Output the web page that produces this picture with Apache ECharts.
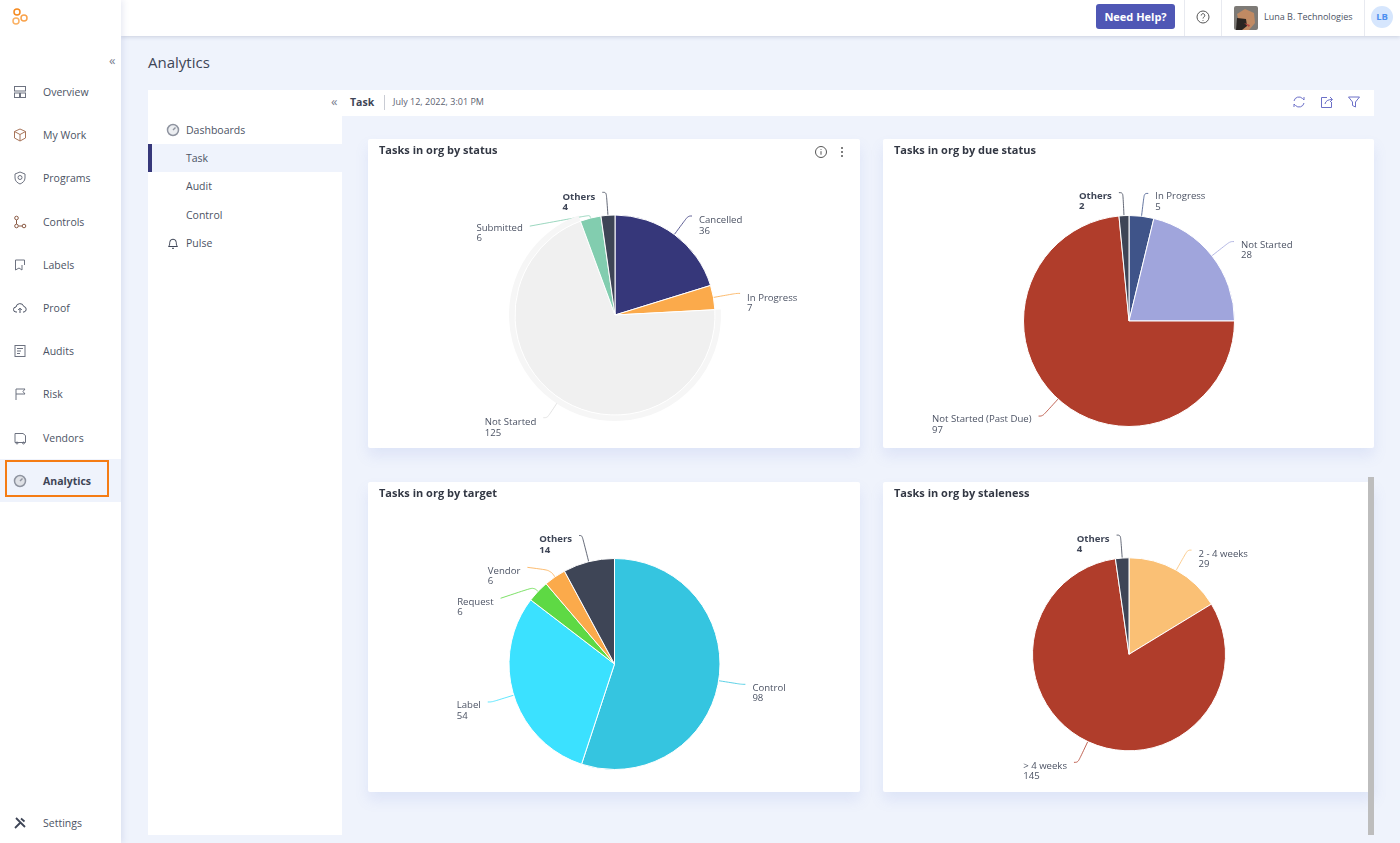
<!DOCTYPE html>
<html>
<head>
<meta charset="utf-8">
<title>Analytics</title>
<script src="https://cdn.jsdelivr.net/npm/echarts@6/dist/echarts.min.js"></script>
<style>
  html, body { margin: 0; padding: 0; }
  body { width: 1400px; height: 843px; overflow: hidden; position: relative; background: #eff3fc;
         font-family: "Open Sans", sans-serif; color: #4c5364; }
  .abs { position: absolute; }
  .side { left: 0; top: 0; width: 121px; height: 843px; background: #fff; box-shadow: 2px 0 6px rgba(90,105,170,.14); z-index: 3; }
  .top { left: 121px; top: 0; width: 1279px; height: 36px; background: #fff; box-shadow: 0 1px 4px rgba(70,80,120,.22); z-index: 2; }
  .nav { font-size: 10.5px; line-height: 14px; white-space: nowrap; }
  .nav svg { position: absolute; left: -30px; top: 0; }
  .txt { white-space: nowrap; line-height: 14px; }
  .sep { width: 1px; background: #e8eaf0; }
  .panel { background: #fff; }
  .card { background: #fff; border-radius: 2px; box-shadow: 0 8px 14px rgba(110,130,215,.13); }
</style>
</head>
<body>

<div class="abs side">
  <svg class="abs" style="left:11px;top:7px" width="20" height="20" viewBox="0 0 20 20" fill="none" stroke-width="1.5">
    <circle cx="6" cy="5" r="3" stroke="#f58a1f"/><circle cx="5" cy="14" r="3" stroke="#fbb163"/><circle cx="13" cy="11" r="3" stroke="#f9a24b"/>
  </svg>
  <div class="abs txt" style="left:109px;top:53px;font-size:13px;color:#7a8090">«</div>

  <div class="abs nav" style="left:43px;top:85px"><svg width="14" height="14" viewBox="0 0 14 14" fill="none" stroke="#6d7280"><rect x="1.5" y="1.5" width="11" height="4.5"/><rect x="1.5" y="8" width="5" height="4.5"/><rect x="7.5" y="8" width="5" height="4.5"/></svg>Overview</div>
  <div class="abs nav" style="left:43px;top:128px"><svg width="14" height="14" viewBox="0 0 14 14" fill="none" stroke="#a8755a"><path d="M7 1l5.5 2.5v6.5L7 13 1.5 10V3.5zM1.5 3.5L7 6.5l5.5-3M7 6.5V13"/></svg>My Work</div>
  <div class="abs nav" style="left:43px;top:171px"><svg width="14" height="14" viewBox="0 0 14 14" fill="none" stroke="#6d7280"><path d="M7 1l5 2v4c0 3-2.5 5-5 6-2.500-1-5-3-5-6V3z"/><circle cx="7" cy="6.5" r="2"/></svg>Programs</div>
  <div class="abs nav" style="left:43px;top:215px"><svg width="14" height="14" viewBox="0 0 14 14" fill="none" stroke="#8a5a44"><circle cx="3.5" cy="3" r="1.8"/><circle cx="3.5" cy="11" r="1.8"/><circle cx="11" cy="11" r="1.8"/><path d="M3.5 5v4M5.5 11h3.5"/></svg>Controls</div>
  <div class="abs nav" style="left:43px;top:258px"><svg width="14" height="14" viewBox="0 0 14 14" fill="none" stroke="#6d7280"><path d="M2.5 2h9v5M2.5 2v10l3.5-2 3 2V7"/></svg>Labels</div>
  <div class="abs nav" style="left:43px;top:301px"><svg width="14" height="14" viewBox="0 0 14 14" fill="none" stroke="#4c5364"><path d="M4 11H3a2.5 2.5 0 010-5 4 4 0 017.8-.5A2.8 2.8 0 0111 11h-1M7 12V7.5M5.2 9L7 7.200 8.800 9"/></svg>Proof</div>
  <div class="abs nav" style="left:43px;top:344px"><svg width="14" height="14" viewBox="0 0 14 14" fill="none" stroke="#6d7280"><rect x="2" y="1.5" width="10" height="11"/><path d="M4 4.5h6M4 7h4M4 9.5h3"/></svg>Audits</div>
  <div class="abs nav" style="left:43px;top:387px"><svg width="14" height="14" viewBox="0 0 14 14" fill="none" stroke="#6d7280"><path d="M3 13V2h9l-2 2.5L12 7H3"/></svg>Risk</div>
  <div class="abs nav" style="left:43px;top:431px"><svg width="14" height="14" viewBox="0 0 14 14" fill="none" stroke="#6d7280"><path d="M2 2.5h8l2.500 2v7h-10.500z"/><circle cx="4" cy="12" r="1"/><circle cx="10.5" cy="12" r="1"/></svg>Vendors</div>

  <div class="abs" style="left:0;top:459px;width:121px;height:43px;background:#eff3fc"></div>
  <div class="abs" style="left:5px;top:460px;width:100px;height:33px;border:2px solid #f57c14"></div>
  <div class="abs nav" style="left:43px;top:474px;font-weight:700;color:#3e4556"><svg width="14" height="14" viewBox="0 0 14 14" fill="#dfe1e6" stroke="#8f94a0" stroke-width="1.5"><circle cx="7" cy="7" r="5.5"/><path d="M7 7l2.5-2.5"/></svg>Analytics</div>

  <div class="abs nav" style="left:43px;top:816px"><svg width="14" height="14" viewBox="0 0 14 14" fill="none" stroke="#3e4556" stroke-width="1.8"><path d="M2 12l6-6M3 2l9 9M8 2.500l3.500 3"/></svg>Settings</div>
</div>

<div class="abs top"></div>
<div class="abs" style="left:1096px;top:4px;width:79px;height:25px;background:#4f57b5;border-radius:3px;color:#fff;font-size:11px;font-weight:700;line-height:25px;text-align:center;z-index:4">Need Help?</div>
<div class="abs sep" style="left:1184px;top:0;height:36px;z-index:4"></div>
<svg class="abs" style="left:1196px;top:10px;z-index:4" width="14" height="14" viewBox="0 0 14 14" fill="none" stroke="#555"><circle cx="7" cy="7" r="6"/><path d="M5.2 5.5a1.8 1.8 0 113 1.3c-.7.5-1.200.9-1.200 1.700M7 10v.8"/></svg>
<div class="abs sep" style="left:1221px;top:0;height:36px;z-index:4"></div>
<svg class="abs" style="left:1234px;top:6px;z-index:4;border-radius:2px" width="24" height="24" viewBox="0 0 24 24"><rect width="24" height="24" fill="#7d7a76"/><path d="M3 8l8-5 9 4 1 10-6 7H7z" fill="#c08a63"/><path d="M3 12l9 1 1 7-5 4H2z" fill="#2a2522"/><path d="M10 17l6 2-1 2z" fill="#b5473f"/></svg>
<div class="abs txt" style="left:1264px;top:10px;font-size:9px;z-index:4">Luna B. Technologies</div>
<div class="abs sep" style="left:1364px;top:0;height:36px;z-index:4"></div>
<div class="abs" style="left:1371px;top:6px;width:22px;height:22px;border-radius:50%;background:#d6e6fd;color:#4d8ff0;font-size:9.5px;font-weight:700;line-height:22px;text-align:center;z-index:4">LB</div>

<div class="abs txt" style="left:148px;top:52px;font-size:15px;line-height:20px;color:#3e4556">Analytics</div>

<div class="abs panel" style="left:148px;top:90px;width:194px;height:745px"></div>
<div class="abs panel" style="left:342px;top:90px;width:1032px;height:26px"></div>
<div class="abs txt" style="left:331px;top:94px;font-size:13px;color:#7a8090">«</div>
<div class="abs txt" style="left:350px;top:95px;font-size:10.5px;font-weight:700;color:#3e4556">Task</div>
<div class="abs" style="left:384px;top:95px;width:1px;height:15px;background:#c9ccd4"></div>
<div class="abs txt" style="left:393px;top:95px;font-size:9px;color:#5b6170">July 12, 2022, 3:01 PM</div>
<svg class="abs" style="left:1292px;top:95px" width="14" height="14" viewBox="0 0 14 14" fill="none" stroke="#6c70c8"><path d="M2 6a5 5 0 018.5-2.5L12 5V2M12 8a5 5 0 01-8.5 2.5L2 9v3"/></svg>
<svg class="abs" style="left:1320px;top:95px" width="14" height="14" viewBox="0 0 14 14" fill="none" stroke="#6c70c8"><path d="M7 2.5H1.500v10h10V7M5 9c.5-3 3-4.500 7-4.500M10 2l2.500 2.500L10 7"/></svg>
<svg class="abs" style="left:1347px;top:95px" width="14" height="14" viewBox="0 0 14 14" fill="none" stroke="#6c70c8"><path d="M1.500 2h11L8.500 7v5l-3-1.500V7z"/></svg>

<svg class="abs" style="left:166px;top:123px" width="14" height="14" viewBox="0 0 14 14" fill="#eceef1" stroke="#8f94a0" stroke-width="1.5"><circle cx="7" cy="7" r="5.5"/><path d="M7 7l2.5-2.5"/></svg>
<div class="abs txt" style="left:186px;top:123px;font-size:10.5px">Dashboards</div>
<div class="abs" style="left:148px;top:144px;width:194px;height:28px;background:#eff3fc"></div>
<div class="abs" style="left:148px;top:144px;width:4px;height:28px;background:#36377a"></div>
<div class="abs txt" style="left:186px;top:151px;font-size:10.5px">Task</div>
<div class="abs txt" style="left:186px;top:179px;font-size:10.5px">Audit</div>
<div class="abs txt" style="left:186px;top:208px;font-size:10.5px">Control</div>
<svg class="abs" style="left:166px;top:236px" width="14" height="14" viewBox="0 0 14 14" fill="none" stroke="#3e4556"><path d="M2.500 10.500c1-1 1.200-2 1.200-4a3.300 3.300 0 016.600 0c0 2 .2 3 1.200 4zM6 12.300h2"/></svg>
<div class="abs txt" style="left:186px;top:236px;font-size:10.5px">Pulse</div>

<div class="abs card" style="left:368px;top:139px;width:492px;height:309px"><div id="chartStatus" style="width:492px;height:309px"></div></div>
<div class="abs card" style="left:883px;top:139px;width:491px;height:309px"><div id="chartDue" style="width:491px;height:309px"></div></div>
<div class="abs card" style="left:368px;top:482px;width:492px;height:310px"><div id="chartTarget" style="width:492px;height:310px"></div></div>
<div class="abs card" style="left:883px;top:482px;width:491px;height:310px"><div id="chartStale" style="width:485px;height:310px"></div></div>

<svg class="abs" style="left:814px;top:145px" width="14" height="14" viewBox="0 0 14 14" fill="none" stroke="#555"><circle cx="7" cy="7" r="5.5"/><path d="M7 6.200v3.500M7 4.200v.8"/></svg>
<svg class="abs" style="left:835px;top:145px" width="14" height="14" viewBox="0 0 14 14" fill="#555"><circle cx="7" cy="3" r="1"/><circle cx="7" cy="7" r="1"/><circle cx="7" cy="11" r="1"/></svg>
<div class="abs" style="left:1368px;top:477px;width:6px;height:358px;background:#bdbdbd"></div>

<script>
var statusNames = ['Cancelled', 'In Progress', 'Not Started', 'Submitted', 'Others'];
var statusValues = [36, 7, 125, 6, 4];
var statusColors = ['#36377a', '#fbaa4b', '#f0f0f0', '#82cdaf', '#3e4556'];

var dueNames = ['In Progress', 'Not Started', 'Not Started (Past Due)', 'Others'];
var dueValues = [5, 28, 97, 2];
var dueColors = ['#3f5489', '#a0a5dc', '#b03d2b', '#3e4556'];

var targetNames = ['Control', 'Label', 'Request', 'Vendor', 'Others'];
var targetValues = [98, 54, 6, 6, 14];
var targetColors = ['#35c5e0', '#3be1ff', '#5ed944', '#fbaa4b', '#3e4556'];

var staleNames = ['2 - 4 weeks', '> 4 weeks', 'Others'];
var staleValues = [29, 145, 4];
var staleColors = ['#fac075', '#b03d2b', '#3e4556'];

function drawPie(id, title, names, values, colors, conf) {
  var myChart = echarts.init(document.getElementById(id));
  var tweaks = conf.tweaks || {};
  var data = names.map(function (name, i) {
    var t = tweaks[name] || {};
    return {
      name: name,
      value: values[i],
      itemStyle: { color: colors[i] },
      // label line keeps the slice colour, a bit softer
      labelLine: {
        length: t.length || 23,
        length2: t.length2 || 4,
        lineStyle: { color: colors[i] === '#f0f0f0' ? '#dcdcdc' : colors[i], opacity: 0.8 }
      }
    };
  });
  var series = [];
  if (conf.ringName) {
    // pale halo around the highlighted slice
    series.push({
      type: 'pie',
      silent: true,
      animation: false,
      center: conf.center,
      radius: [conf.radius, conf.radius + 6],
      label: { show: false },
      labelLine: { show: false },
      itemStyle: { borderWidth: 0 },
      data: names.map(function (name, i) {
        return {
          name: name,
          value: values[i],
          itemStyle: { color: name === conf.ringName ? '#f6f6f6' : 'transparent' }
        };
      })
    });
  }
  series.push({
    type: 'pie',
    animation: false,
    center: conf.center,
    radius: conf.radius,
    avoidLabelOverlap: false,
    itemStyle: { borderColor: '#fff', borderWidth: 1 },
    label: {
      position: 'outside',
      distanceToLabelLine: 7,
      padding: [conf.labelPad || 17, 0, 0, 0],
      formatter: function (p) {
        var k = p.name === 'Others' ? 'o' : 't';
        return '{' + k + '|' + p.name + '}\n{' + k + '|' + p.value + '}';
      },
      rich: {
        t: { align: 'left', fontFamily: 'Open Sans', fontSize: 9.6, lineHeight: 10.5, color: '#4c5364' },
        o: { align: 'left', fontFamily: 'Open Sans', fontSize: 9.6, lineHeight: 10.5, fontWeight: 700, color: '#3e4556' }
      }
    },
    labelLine: { smooth: 0.4, lineStyle: { width: 1 } },
    // labels that sit on a slanted leader: move the text and the last point of the line
    labelLayout: function (params) {
      var t = tweaks[names[params.dataIndex]];
      if (!t || !t.dy || !params.labelLinePoints) {
        return {};
      }
      var pts = params.labelLinePoints.map(function (p) { return [p[0], p[1]]; });
      pts[2][1] += t.dy;
      return { dy: t.textDy === undefined ? t.dy : t.textDy, labelLinePoints: pts };
    },
    data: data
  });
  var option = {
    title: {
      text: title,
      left: 6,
      top: 1,
      textStyle: { fontFamily: 'Open Sans', fontSize: 11, fontWeight: 700, color: '#333844' }
    },
    tooltip: { trigger: 'item' },
    series: series
  };
  myChart.setOption(option);
  window.addEventListener('resize', function () {
    myChart.resize();
  });
}

drawPie('chartStatus', 'Tasks in org by status', statusNames, statusValues, statusColors, {
  center: [247, 176], radius: 100, ringName: 'Not Started', labelPad: 20,
  tweaks: { Submitted: { length: 3, length2: 60, dy: 11, textDy: 8 } }
});
drawPie('chartDue', 'Tasks in org by due status', dueNames, dueValues, dueColors, {
  center: [246, 182], radius: 105.5
});
drawPie('chartTarget', 'Tasks in org by target', targetNames, targetValues, targetColors, {
  center: [246.5, 182], radius: 105.5, labelPad: 18,
  tweaks: {
    Request: { length: 6, length2: 33, dy: 11 },
    Vendor: { length: 8, length2: 23, dy: -3 },
    Others: { length: 27, length2: 3 }
  }
});
drawPie('chartStale', 'Tasks in org by staleness', staleNames, staleValues, staleColors, {
  center: [246, 172.3], radius: 96.5, labelPad: 18
});
</script>
</body>
</html>
